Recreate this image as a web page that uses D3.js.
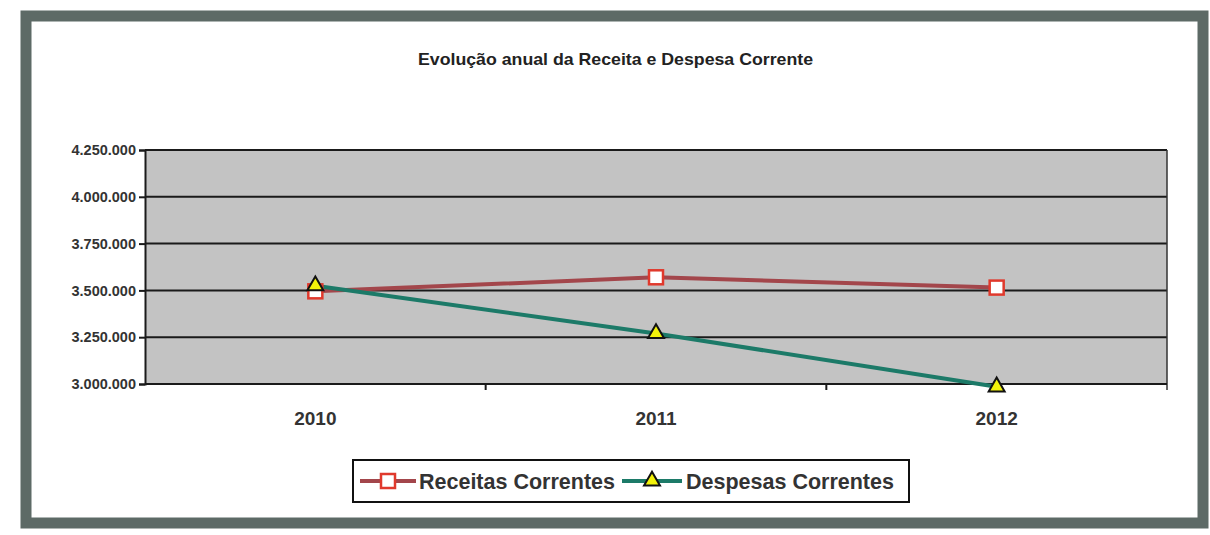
<!DOCTYPE html>
<html>
<head>
<meta charset="utf-8">
<script src="https://cdn.jsdelivr.net/npm/d3@7"></script>
<style>
  body { margin: 0; background: #fff; }
  svg { display: block; }
</style>
</head>
<body>
<svg id="chart" width="1210" height="535"></svg>
<script>
const years = ["2010", "2011", "2012"];
const receitas = [3495000, 3570000, 3515000];
const despesas = [3525000, 3270000, 2985000];
const yTicks = [3000000, 3250000, 3500000, 3750000, 4000000, 4250000];

const svg = d3.select("#chart");
const width = +svg.attr("width");
const height = +svg.attr("height");

const plot = { left: 145, right: 1167, top: 150, bottom: 384 };

const x = d3.scaleBand().domain(years).range([plot.left, plot.right]);
const y = d3.scaleLinear().domain([3000000, 4250000]).range([plot.bottom, plot.top]);

const fmt = d => d3.format(",")(d).replace(/,/g, ".");
const font = "'Liberation Sans', Arial, sans-serif";

// outer frame (scanned Excel chart border)
svg.append("rect")
  .attr("x", 26).attr("y", 16)
  .attr("width", 1177).attr("height", 507)
  .attr("fill", "#fff")
  .attr("stroke", "#5d6a66")
  .attr("stroke-width", 11);

// title is condensed in the original, squeeze it to the same width
svg.append("text")
  .attr("x", 418).attr("y", 65)
  .attr("textLength", 395)
  .attr("lengthAdjust", "spacingAndGlyphs")
  .attr("font-family", font)
  .attr("font-weight", "bold")
  .attr("font-size", 17)
  .attr("fill", "#222")
  .text("Evolução anual da Receita e Despesa Corrente");

// plot background
svg.append("rect")
  .attr("x", plot.left).attr("y", plot.top)
  .attr("width", plot.right - plot.left).attr("height", plot.bottom - plot.top)
  .attr("fill", "#c3c3c3");

// gridlines
svg.append("g")
  .selectAll("line")
  .data(yTicks.slice(1))
  .join("line")
  .attr("x1", plot.left).attr("x2", plot.right)
  .attr("y1", d => y(d)).attr("y2", d => y(d))
  .attr("stroke", "#1a1a1a")
  .attr("stroke-width", 2);

// y axis
const yAxis = svg.append("g")
  .attr("transform", `translate(${plot.left},0)`)
  .call(d3.axisLeft(y).tickValues(yTicks).tickFormat(fmt).tickSize(6).tickPadding(3));
yAxis.select(".domain").attr("stroke", "#1a1a1a").attr("stroke-width", 2);
yAxis.selectAll(".tick line").attr("stroke", "#1a1a1a").attr("stroke-width", 2);
yAxis.selectAll("text")
  .attr("font-family", font)
  .attr("font-weight", "bold")
  .attr("font-size", 14.5)
  .attr("fill", "#333");

// right edge of plot
svg.append("line")
  .attr("x1", plot.right).attr("x2", plot.right)
  .attr("y1", plot.top).attr("y2", plot.bottom + 6)
  .attr("stroke", "#333").attr("stroke-width", 1.5);

// x axis, ticks between categories
svg.append("line")
  .attr("x1", plot.left).attr("x2", plot.right)
  .attr("y1", plot.bottom).attr("y2", plot.bottom)
  .attr("stroke", "#1a1a1a").attr("stroke-width", 2);
svg.append("g")
  .selectAll("line")
  .data(years.slice(1))
  .join("line")
  .attr("x1", d => x(d)).attr("x2", d => x(d))
  .attr("y1", plot.bottom).attr("y2", plot.bottom + 6)
  .attr("stroke", "#1a1a1a").attr("stroke-width", 2);
svg.append("g")
  .selectAll("text")
  .data(years)
  .join("text")
  .attr("x", d => x(d) + x.bandwidth() / 2)
  .attr("y", 425)
  .attr("text-anchor", "middle")
  .attr("font-family", font)
  .attr("font-weight", "bold")
  .attr("font-size", 19)
  .attr("fill", "#333")
  .text(d => d);

const cx = d => x(d) + x.bandwidth() / 2;
const line = d3.line().x(d => cx(d[0])).y(d => y(d[1]));

const redLine = "#a3464b", greenLine = "#1c7a68";

svg.append("path")
  .datum(years.map((d, i) => [d, receitas[i]]))
  .attr("d", line)
  .attr("fill", "none")
  .attr("stroke", redLine)
  .attr("stroke-width", 4);

svg.append("path")
  .datum(years.map((d, i) => [d, despesas[i]]))
  .attr("d", line)
  .attr("fill", "none")
  .attr("stroke", greenLine)
  .attr("stroke-width", 4);

const tri = d3.symbol().type(d3.symbolTriangle).size(110);

function square(g, px, py) {
  g.append("rect")
    .attr("x", px - 7).attr("y", py - 7)
    .attr("width", 14).attr("height", 14)
    .attr("fill", "#fff")
    .attr("stroke", "#e0392c")
    .attr("stroke-width", 2.5);
}
function triangle(g, px, py) {
  g.append("path")
    .attr("d", tri)
    .attr("transform", `translate(${px},${py})`)
    .attr("fill", "#f2f20a")
    .attr("stroke", "#111")
    .attr("stroke-width", 2);
}

const marks = svg.append("g");
years.forEach((d, i) => square(marks, cx(d), y(receitas[i])));
years.forEach((d, i) => triangle(marks, cx(d), y(despesas[i])));

// legend
const lg = svg.append("g");
lg.append("rect")
  .attr("x", 353).attr("y", 460)
  .attr("width", 556).attr("height", 42)
  .attr("fill", "#fff")
  .attr("stroke", "#111")
  .attr("stroke-width", 2);

lg.append("line").attr("x1", 360).attr("x2", 416).attr("y1", 481).attr("y2", 481)
  .attr("stroke", redLine).attr("stroke-width", 4);
square(lg, 388, 481);
lg.append("text").attr("x", 419).attr("y", 489)
  .attr("font-family", font)
  .attr("font-weight", "bold").attr("font-size", 21.5).attr("fill", "#333")
  .text("Receitas Correntes");

lg.append("line").attr("x1", 622).attr("x2", 682).attr("y1", 481).attr("y2", 481)
  .attr("stroke", greenLine).attr("stroke-width", 4);
triangle(lg, 652, 481);
lg.append("text").attr("x", 686).attr("y", 489)
  .attr("font-family", font)
  .attr("font-weight", "bold").attr("font-size", 21.5).attr("fill", "#333")
  .text("Despesas Correntes");
</script>
</body>
</html>
